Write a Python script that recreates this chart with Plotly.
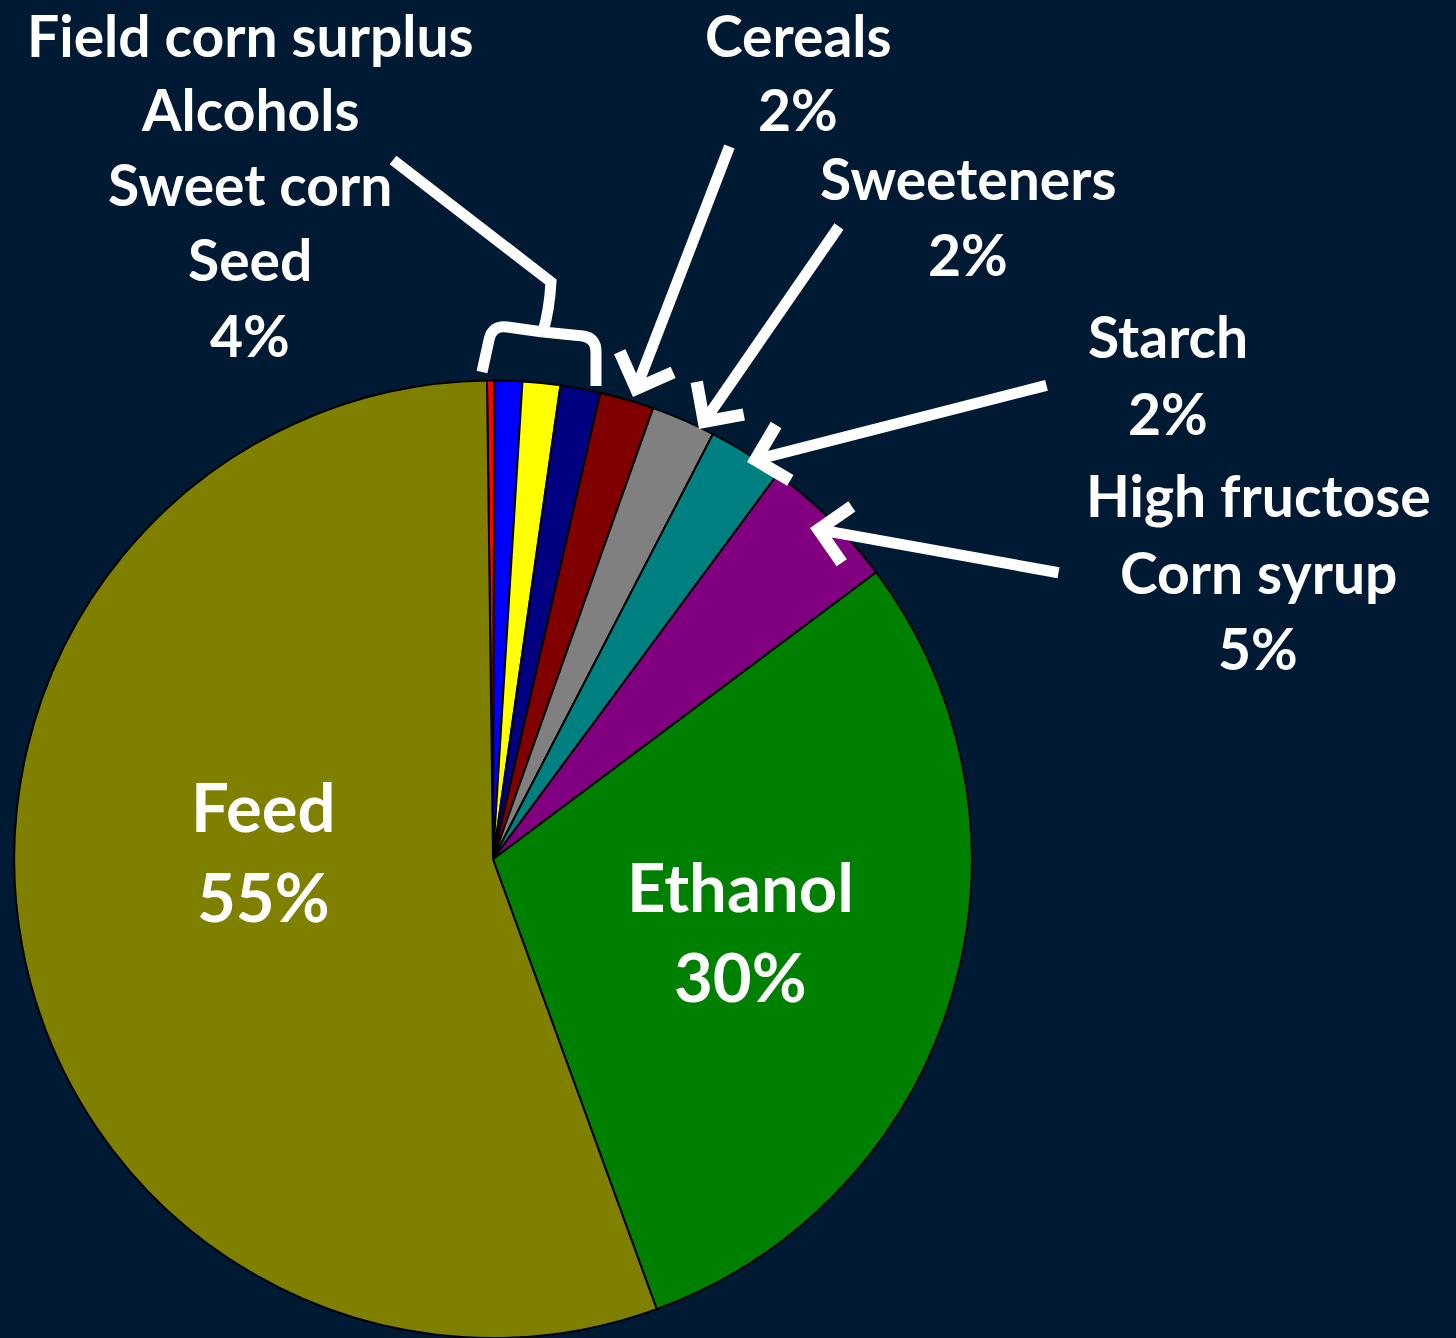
import plotly.graph_objects as go

# ---- data ----
categories = ["Field corn surplus", "Alcohols", "Sweet corn", "Seed", "Cereals",
              "Sweeteners", "Starch", "High fructose corn syrup", "Ethanol", "Feed"]
shares = [0.25, 0.93, 1.27, 1.35, 1.83, 2.17, 2.53, 4.64, 29.68, 55.36]
slice_colors = ["#FF0000", "#0000FF", "#FFFF00", "#000080", "#800000",
                "#808080", "#008080", "#800080", "#008000", "#808000"]

# displayed label texts
group_lines = ["Field corn surplus", "Alcohols", "Sweet corn", "Seed", "4%"]
cereal_lines = ["Cereals", "2%"]
sweet_lines = ["Sweeteners", "2%"]
starch_lines = ["Starch", "2%"]
hfcs_lines = ["High fructose", "Corn syrup", "5%"]
ethanol_lines = ["Ethanol", "30%"]
feed_lines = ["Feed", "55%"]

# ---- layout constants ----
W, H = 1456, 1338
BG = "#001A33"
FONT = "Lato"


def fx(x):
    return x / W


def fy(y):
    return 1 - y / H


fig = go.Figure()
fig.add_trace(go.Pie(
    labels=categories,
    values=shares,
    sort=False,
    direction="clockwise",
    rotation=-0.72,
    marker=dict(colors=slice_colors, line=dict(color="black", width=2)),
    textinfo="none",
    hoverinfo="label+percent",
    domain=dict(x=[13.5 / W, 972.5 / W], y=[0, 957.5 / H]),
    showlegend=False,
))

annotations = []


def add_block(lines, cx, baselines, size):
    for line, b in zip(lines, baselines):
        annotations.append(dict(
            text="<b>" + line + "</b>", x=fx(cx), y=fy(b - 0.387 * size),
            xref="paper", yref="paper", xanchor="center", yanchor="middle",
            showarrow=False, font=dict(family=FONT, size=size, color="white"),
        ))


S = 57
BIG = 67
add_block(group_lines, 250, [57, 131, 206, 281, 357], S)
add_block(cereal_lines, 798, [57, 131], S)
add_block(sweet_lines, 968, [200, 276], S)
add_block(starch_lines, 1168, [358, 435], S)
add_block(hfcs_lines, 1258, [517, 594, 670], S)
add_block(feed_lines, 263, [832, 922], BIG)
add_block(ethanol_lines, 740, [912, 1002], BIG)

# arrows: (tail x, tail y, tip x, tip y) in pixels
arrows = [
    (730, 145, 633, 397),
    (840, 225, 699, 429),
    (1048, 385, 747, 462),
    (1060, 573, 810, 528),
]
for tx, ty, hx, hy in arrows:
    annotations.append(dict(
        text="", x=fx(hx), y=fy(hy), xref="paper", yref="paper",
        ax=tx - hx, ay=ty - hy, axref="pixel", ayref="pixel",
        showarrow=True, arrowhead=4, arrowsize=1, arrowwidth=11,
        arrowcolor="white", standoff=0,
    ))


def pt(x, y):
    return f"{fx(x):.5f},{fy(y):.5f}"


brace_path = (
    f"M {pt(393,160)} L {pt(551,282)} C {pt(550,300)} {pt(547,318)} {pt(543,332)} "
    f"M {pt(543,332)} L {pt(507,327)} Q {pt(492,325)} {pt(489,340)} L {pt(482,372)} "
    f"M {pt(543,332)} L {pt(583,336)} Q {pt(596,338)} {pt(596,352)} L {pt(596,386)}"
)

fig.update_layout(
    width=W, height=H,
    margin=dict(l=0, r=0, t=0, b=0),
    paper_bgcolor=BG, plot_bgcolor=BG,
    showlegend=False,
    annotations=annotations,
    shapes=[dict(type="path", path=brace_path, xref="paper", yref="paper",
                 line=dict(color="white", width=11), fillcolor="rgba(0,0,0,0)")],
)

fig.write_html(
    "out.html",
    config={"displayModeBar": False},
    post_script="document.body.style.margin='0';document.body.style.overflow='hidden';",
)
